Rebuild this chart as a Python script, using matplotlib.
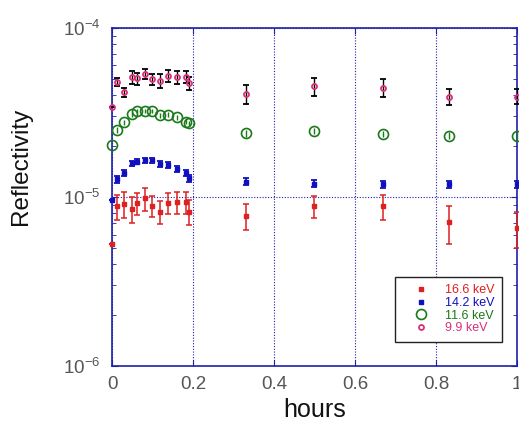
import numpy as np
import matplotlib
matplotlib.use("Agg")
import matplotlib.pyplot as plt
from matplotlib.lines import Line2D
from matplotlib.ticker import LogLocator, FixedLocator

plt.rcParams['font.family'] = ['Liberation Sans', 'DejaVu Sans']
plt.rcParams['mathtext.fontset'] = 'custom'
plt.rcParams['mathtext.rm'] = 'Liberation Sans'
plt.rcParams['mathtext.it'] = 'Liberation Sans'

# measurement times (hours)
hours = [0.0, 0.0115, 0.030, 0.050, 0.061, 0.081, 0.100, 0.119, 0.139,
         0.161, 0.182, 0.190, 0.330, 0.500, 0.670, 0.831, 1.0]

# reflectivity per energy
r_166 = [5.3e-6, 8.8e-6, 9.1e-6, 8.5e-6, 9.2e-6, 9.8e-6, 8.9e-6, 8.2e-6, 9.2e-6,
         9.3e-6, 9.3e-6, 8.2e-6, 7.75e-6, 8.8e-6, 8.8e-6, 7.1e-6, 6.6e-6]
e_166 = [0.0, 1.5e-6, 1.6e-6, 1.5e-6, 1.4e-6, 1.5e-6, 1.3e-6, 1.3e-6, 1.3e-6,
         1.4e-6, 1.4e-6, 1.4e-6, 1.4e-6, 1.3e-6, 1.5e-6, 1.8e-6, 1.6e-6]

r_142 = [9.6e-6, 1.27e-5, 1.39e-5, 1.58e-5, 1.62e-5, 1.65e-5, 1.65e-5, 1.57e-5, 1.55e-5,
         1.46e-5, 1.39e-5, 1.29e-5, 1.23e-5, 1.20e-5, 1.19e-5, 1.19e-5, 1.19e-5]
e_142 = [0.0, 6e-7, 6e-7, 6e-7, 6e-7, 6e-7, 6e-7, 6e-7, 6e-7,
         6e-7, 6e-7, 6e-7, 6e-7, 6e-7, 6e-7, 6e-7, 6e-7]

r_116 = [2.03e-5, 2.49e-5, 2.77e-5, 3.08e-5, 3.23e-5, 3.23e-5, 3.23e-5, 3.04e-5, 3.07e-5,
         2.97e-5, 2.79e-5, 2.73e-5, 2.38e-5, 2.46e-5, 2.37e-5, 2.31e-5, 2.31e-5]
e_116 = [0.0, 1.0e-6, 1.0e-6, 1.0e-6, 1.0e-6, 1.0e-6, 1.0e-6, 1.0e-6, 1.0e-6,
         1.0e-6, 1.0e-6, 1.0e-6, 1.0e-6, 1.0e-6, 1.0e-6, 1.0e-6, 1.0e-6]

r_99 = [3.40e-5, 4.81e-5, 4.18e-5, 5.13e-5, 5.03e-5, 5.34e-5, 4.97e-5, 4.88e-5, 5.20e-5,
        5.10e-5, 5.15e-5, 4.71e-5, 4.07e-5, 4.52e-5, 4.44e-5, 3.93e-5, 3.93e-5]
e_99 = [0.0, 2.7e-6, 2.5e-6, 4.4e-6, 4.0e-6, 3.8e-6, 4.0e-6, 4.4e-6, 4.2e-6,
        4.3e-6, 4.1e-6, 4.3e-6, 5.3e-6, 5.5e-6, 5.5e-6, 4.2e-6, 4.0e-6]

labels = ['16.6 keV', '14.2 keV', '11.6 keV', '9.9 keV']
c_red, c_blue, c_green, c_pink = '#dd2020', '#1010c0', '#1a7a1a', '#d8307a'
axis_blue = '#2020a8'

fig = plt.figure(figsize=(5.19, 4.21), dpi=100)
ax = fig.add_axes([0.2158, 0.1306, 0.7803, 0.8029])

ax.errorbar(hours, r_166, yerr=e_166, fmt='s', ms=2.6, color=c_red,
            ecolor=c_red, elinewidth=1.1, capsize=2.2, capthick=1.1,
            clip_on=False, zorder=3)
ax.errorbar(hours, r_142, yerr=e_142, fmt='s', ms=2.6, color=c_blue,
            ecolor=c_blue, elinewidth=1.3, capsize=2.0, capthick=1.3,
            clip_on=False, zorder=3)
ax.errorbar(hours, r_116, yerr=e_116, fmt='o', ms=7.2, mfc='none', mec=c_green,
            mew=1.2, ecolor=c_green, elinewidth=1.0, capsize=0,
            clip_on=False, zorder=3)
ax.errorbar(hours, r_99, yerr=e_99, fmt='o', ms=3.6, mfc='none', mec=c_pink,
            mew=1.3, ecolor='black', elinewidth=1.0, capsize=2.2, capthick=1.0,
            clip_on=False, zorder=4)

ax.set_yscale('log')
ax.set_xlim(0, 1)
ax.set_ylim(1e-6, 1e-4)
ax.set_xticks([0, 0.2, 0.4, 0.6, 0.8, 1.0])
ax.set_xticklabels(['0', '0.2', '0.4', '0.6', '0.8', '1'])
ax.yaxis.set_major_locator(FixedLocator([1e-6, 1e-5, 1e-4]))
ax.yaxis.set_minor_locator(LogLocator(base=10, subs=np.arange(2, 10)))
ax.yaxis.set_minor_formatter(plt.NullFormatter())

ax.grid(True, which='major', linestyle=(0, (1, 1.5)), color=axis_blue, linewidth=0.8)
for s in ax.spines.values():
    s.set_color(axis_blue)
    s.set_linewidth(1.2)

ax.tick_params(axis='both', which='major', direction='in', length=4,
               color=axis_blue, labelcolor='#555555', labelsize=13.5,
               top=True, right=True)
ax.tick_params(axis='y', which='major', pad=8)
ax.tick_params(axis='x', which='major', pad=7)
ax.tick_params(axis='y', which='minor', direction='in', length=3,
               color=axis_blue, right=True)

ax.set_xlabel('hours', fontsize=18, color='#111111', labelpad=4)
ax.set_ylabel('Reflectivity', fontsize=17.5, color='#111111')
ax.yaxis.set_label_coords(-0.198, 0.59)

handles = [
    Line2D([], [], ls='none', marker='s', ms=2.6, color=c_red),
    Line2D([], [], ls='none', marker='s', ms=2.6, color=c_blue),
    Line2D([], [], ls='none', marker='o', ms=7.2, mfc='none', mec=c_green, mew=1.2),
    Line2D([], [], ls='none', marker='o', ms=3.6, mfc='none', mec=c_pink, mew=1.3),
]
leg = ax.legend(handles, labels, loc='lower right', bbox_to_anchor=(0.962, 0.072),
                fontsize=9, frameon=True, fancybox=False, framealpha=1,
                edgecolor='#222222', handlelength=3.0, handletextpad=0.4,
                labelspacing=0.05, borderpad=0.6, borderaxespad=0,
                labelcolor=[c_red, c_blue, c_green, c_pink])
leg.get_frame().set_linewidth(1.0)

fig.savefig('out.png', dpi=100)
